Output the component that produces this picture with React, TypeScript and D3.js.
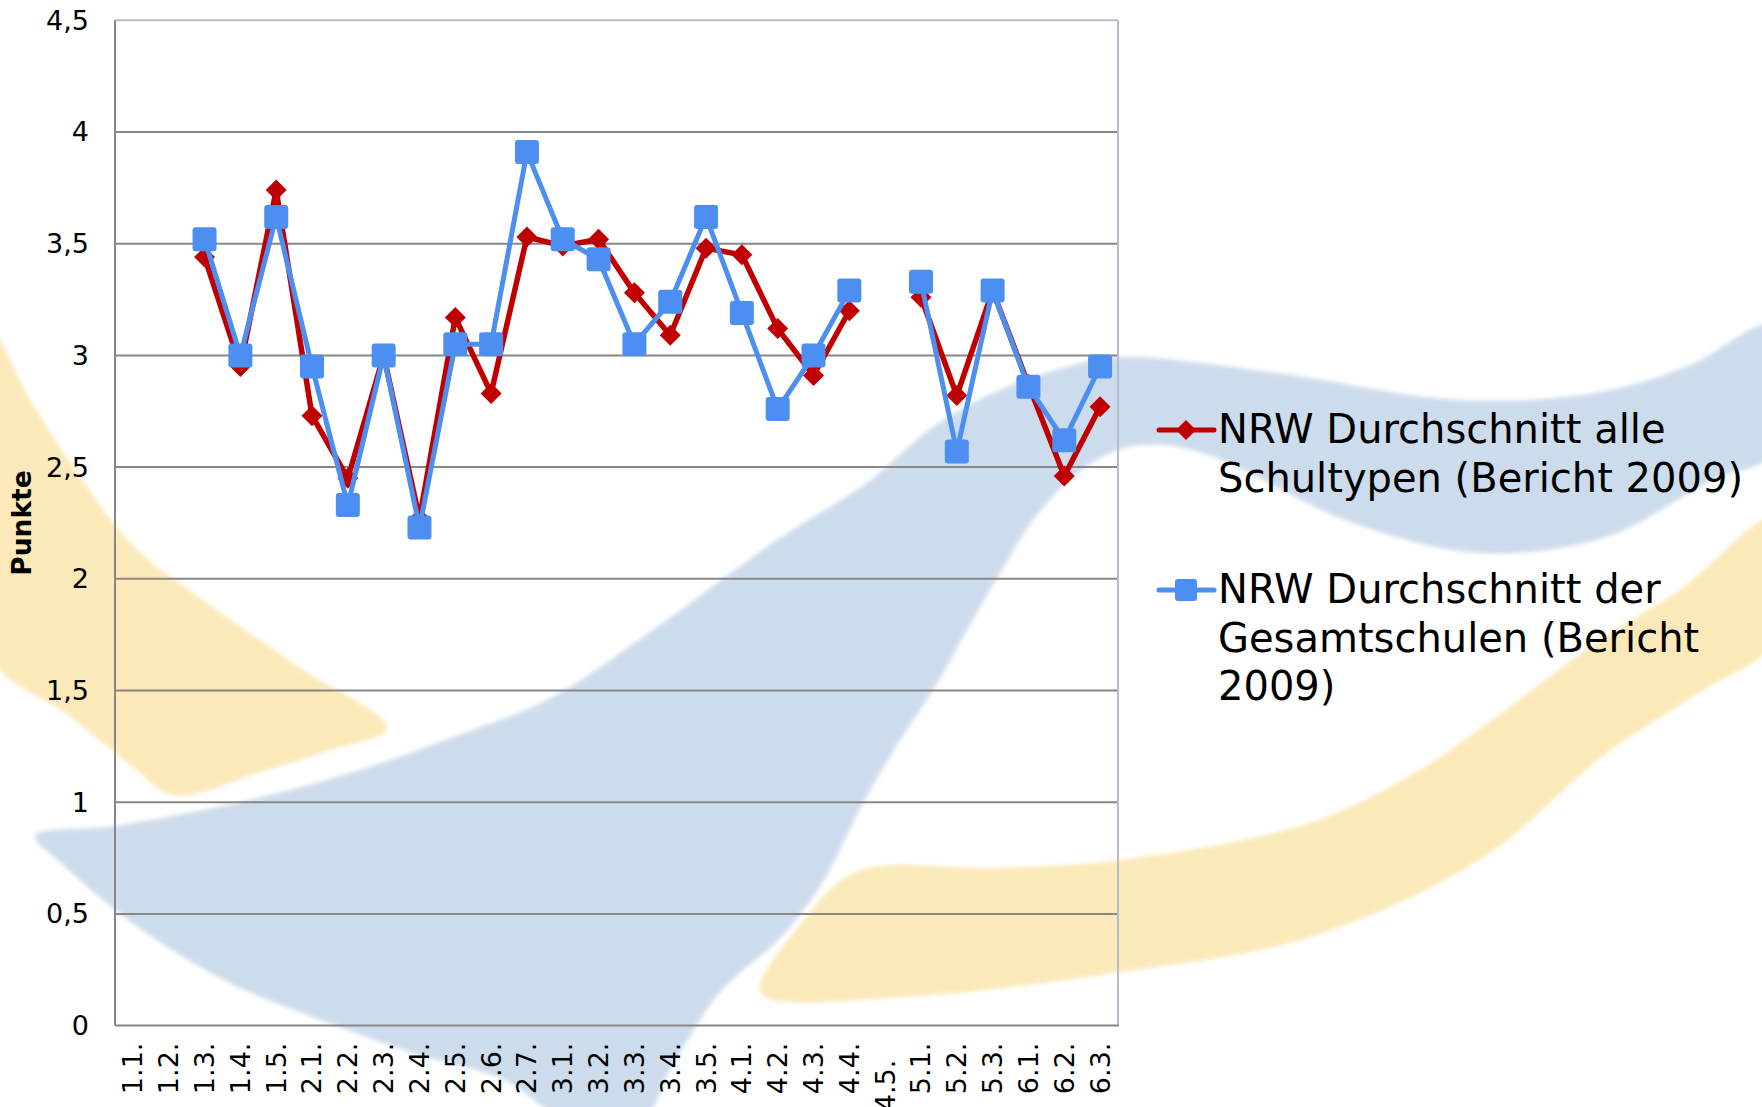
import React, { useEffect, useRef } from 'react';
import * as d3 from 'd3';

// categories on the x axis (Excel style labels)
const categories = [
  '1.1.', '1.2.', '1.3.', '1.4.', '1.5.', '2.1.', '2.2.', '2.3.', '2.4.', '2.5.', '2.6.', '2.7.',
  '3.1.', '3.2.', '3.3.', '3.4.', '3.5.', '4.1.', '4.2.', '4.3.', '4.4.', '4.5.\u00a0\u00a0',
  '5.1.', '5.2.', '5.3.', '6.1.', '6.2.', '6.3.',
];

// NRW Durchschnitt alle Schultypen (Bericht 2009)
const alleSchultypen: (number | null)[] = [
  null, null, 3.44, 2.95, 3.74, 2.73, 2.45, 3.0, 2.27, 3.17, 2.83, 3.53,
  3.49, 3.52, 3.28, 3.09, 3.48, 3.45, 3.12, 2.91, 3.2, null,
  3.26, 2.82, 3.29, 2.87, 2.46, 2.77,
];

// NRW Durchschnitt der Gesamtschulen (Bericht 2009)
const gesamtschulen: (number | null)[] = [
  null, null, 3.52, 3.0, 3.62, 2.95, 2.33, 3.0, 2.23, 3.05, 3.05, 3.91,
  3.52, 3.43, 3.05, 3.24, 3.62, 3.19, 2.76, 3.0, 3.29, null,
  3.33, 2.57, 3.29, 2.86, 2.62, 2.95,
];

const yTicks = [0, 0.5, 1, 1.5, 2, 2.5, 3, 3.5, 4, 4.5];

const legendLabels = [
  ['NRW Durchschnitt alle', 'Schultypen (Bericht 2009)'],
  ['NRW Durchschnitt der', 'Gesamtschulen (Bericht', '2009)'],
];

// decorative watermark outlines (page background, not data)
const blueSwoosh: [number, number][] = [
  [35, 836], [115, 826], [250, 800], [360, 770], [459, 735], [551, 698], [660, 625], [777, 540],
  [867, 483], [933, 427], [1000, 390], [1067, 367], [1117, 357], [1277, 373], [1459, 400],
  [1595, 393], [1686, 367], [1775, 325], [1775, 452], [1712, 480], [1606, 537], [1480, 553],
  [1353, 523], [1200, 452], [1140, 445], [1100, 458], [1067, 482], [1033, 520], [1000, 573],
  [967, 630], [933, 690], [900, 740], [863, 803], [822, 883], [781, 937], [720, 992],
  [670, 1070], [645, 1115], [560, 1115], [505, 1080], [413, 1053], [321, 1020], [230, 983],
  [138, 927], [60, 862],
];
const yellowLeft: [number, number][] = [
  [-10, 330], [30, 400], [67, 458], [133, 546], [200, 598], [300, 668], [387, 728],
  [330, 750], [267, 770], [173, 795], [133, 767], [67, 714], [-10, 655],
];
const yellowRight: [number, number][] = [
  [761, 993], [800, 925], [856, 872], [1000, 868], [1120, 860], [1310, 823], [1420, 770],
  [1492, 720], [1600, 640], [1680, 590], [1775, 518], [1775, 640], [1700, 692], [1608, 752],
  [1479, 860], [1310, 937], [1120, 972], [903, 997],
];

const App: React.FC = () => {
  const svgRef = useRef<SVGSVGElement | null>(null);

  useEffect(() => {
    if (!svgRef.current) return;
    const svg = d3.select(svgRef.current);
    svg.selectAll('*').remove();

    const width = 1762;
    const height = 1107;
    const margin = { top: 20.3, right: 644, bottom: 81.4, left: 115 };
    svg.attr('width', width).attr('height', height);

    const font = '"DejaVu Sans", Verdana, sans-serif';
    const red = '#c00000';
    const blue = '#4d8ff0';
    const grid = '#878787';

    svg.append('rect').attr('width', width).attr('height', height).attr('fill', '#fff');

    // watermark
    const defs = svg.append('defs');
    defs.append('filter').attr('id', 'soft')
      .append('feGaussianBlur').attr('stdDeviation', 2);
    const shape = d3.line().curve(d3.curveCatmullRomClosed.alpha(0.5));
    const wm = svg.append('g').attr('filter', 'url(#soft)');
    wm.append('path').attr('d', shape(yellowLeft)).attr('fill', '#fce9b9');
    wm.append('path').attr('d', shape(yellowRight)).attr('fill', '#fce9b9');
    wm.append('path').attr('d', shape(blueSwoosh)).attr('fill', '#cddcec');

    const x = d3.scaleBand<string>()
      .domain(categories)
      .range([margin.left, width - margin.right])
      .padding(0);
    const cx = (i: number) => (x(categories[i]) as number) + x.bandwidth() / 2;

    const y = d3.scaleLinear()
      .domain([0, 4.5])
      .range([height - margin.bottom, margin.top]);

    const x0 = margin.left;
    const x1 = width - margin.right;

    // gridlines
    svg.append('g').selectAll('line')
      .data(yTicks.filter(t => t > 0 && t < 4.5))
      .enter().append('line')
      .attr('x1', x0).attr('x2', x1)
      .attr('y1', d => y(d)).attr('y2', d => y(d))
      .attr('stroke', grid).attr('stroke-width', 2);

    // frame
    svg.append('line').attr('x1', x0).attr('x2', x1).attr('y1', y(4.5)).attr('y2', y(4.5))
      .attr('stroke', '#b3bdcc').attr('stroke-width', 2);
    svg.append('line').attr('x1', x1).attr('x2', x1).attr('y1', y(4.5)).attr('y2', y(0))
      .attr('stroke', '#b3bdcc').attr('stroke-width', 2);
    svg.append('line').attr('x1', x0).attr('x2', x0).attr('y1', y(4.5)).attr('y2', y(0))
      .attr('stroke', grid).attr('stroke-width', 2);
    svg.append('line').attr('x1', x0).attr('x2', x1 + 1).attr('y1', y(0)).attr('y2', y(0))
      .attr('stroke', grid).attr('stroke-width', 2);

    // y tick labels
    svg.append('g').selectAll('text')
      .data(yTicks)
      .enter().append('text')
      .attr('x', 89)
      .attr('y', d => y(d))
      .attr('dy', '0.35em')
      .attr('text-anchor', 'end')
      .attr('font-family', font)
      .attr('font-size', 27)
      .attr('fill', '#000')
      .text(d => String(d).replace('.', ','));

    // x tick labels, rotated
    svg.append('g').selectAll('text')
      .data(categories)
      .enter().append('text')
      .attr('transform', (_, i) => `translate(${cx(i)},${y(0) + 17}) rotate(-90)`)
      .attr('dy', '0.35em')
      .attr('text-anchor', 'end')
      .attr('font-family', font)
      .attr('font-size', 27)
      .attr('fill', '#000')
      .style('white-space', 'pre')
      .text(d => d);

    // y axis title
    svg.append('text')
      .attr('transform', `translate(22,${523}) rotate(-90)`)
      .attr('dy', '0.35em')
      .attr('text-anchor', 'middle')
      .attr('font-family', font)
      .attr('font-weight', 'bold')
      .attr('font-size', 26.5)
      .attr('fill', '#000')
      .text('Punkte');

    const line = d3.line<number | null>()
      .defined(d => d !== null)
      .x((_, i) => cx(i))
      .y(d => y(d as number));

    const diamond = (r: number) => `M0,${-r}L${r},0L0,${r}L${-r},0Z`;

    // red series
    svg.append('path')
      .datum(alleSchultypen)
      .attr('fill', 'none')
      .attr('stroke', red)
      .attr('stroke-width', 5.5)
      .attr('stroke-linejoin', 'round')
      .attr('d', line);
    svg.append('g').selectAll('path')
      .data(alleSchultypen.map((v, i) => ({ v, i })).filter(d => d.v !== null))
      .enter().append('path')
      .attr('transform', d => `translate(${cx(d.i)},${y(d.v as number)})`)
      .attr('d', diamond(10.5))
      .attr('fill', red);

    // blue series
    svg.append('path')
      .datum(gesamtschulen)
      .attr('fill', 'none')
      .attr('stroke', blue)
      .attr('stroke-width', 5)
      .attr('stroke-linejoin', 'round')
      .attr('d', line);
    svg.append('g').selectAll('rect')
      .data(gesamtschulen.map((v, i) => ({ v, i })).filter(d => d.v !== null))
      .enter().append('rect')
      .attr('x', d => cx(d.i) - 12)
      .attr('y', d => y(d.v as number) - 12)
      .attr('width', 24)
      .attr('height', 24)
      .attr('rx', 3)
      .attr('fill', blue);

    // legend
    const legendTop = [430, 590];
    const legendColors = [red, blue];
    legendLabels.forEach((lines, k) => {
      const g = svg.append('g').attr('transform', `translate(0,${legendTop[k]})`);
      g.append('line').attr('x1', 1159).attr('x2', 1214).attr('y1', 0).attr('y2', 0)
        .attr('stroke', legendColors[k]).attr('stroke-width', 5).attr('stroke-linecap', 'round');
      if (k === 0) {
        g.append('path').attr('transform', 'translate(1186,0)').attr('d', diamond(10)).attr('fill', red);
      } else {
        g.append('rect').attr('x', 1175).attr('y', -11).attr('width', 22).attr('height', 22)
          .attr('rx', 3).attr('fill', blue);
      }
      const t = g.append('text')
        .attr('font-family', font)
        .attr('font-size', 40)
        .attr('fill', '#000');
      lines.forEach((s, j) => {
        t.append('tspan').attr('x', 1218).attr('y', 13 + j * 48.5).text(s);
      });
    });
  }, []);

  return (
    <svg ref={svgRef} style={{ position: 'absolute', left: 0, top: 0, display: 'block' }}></svg>
  );
};

export default App;
